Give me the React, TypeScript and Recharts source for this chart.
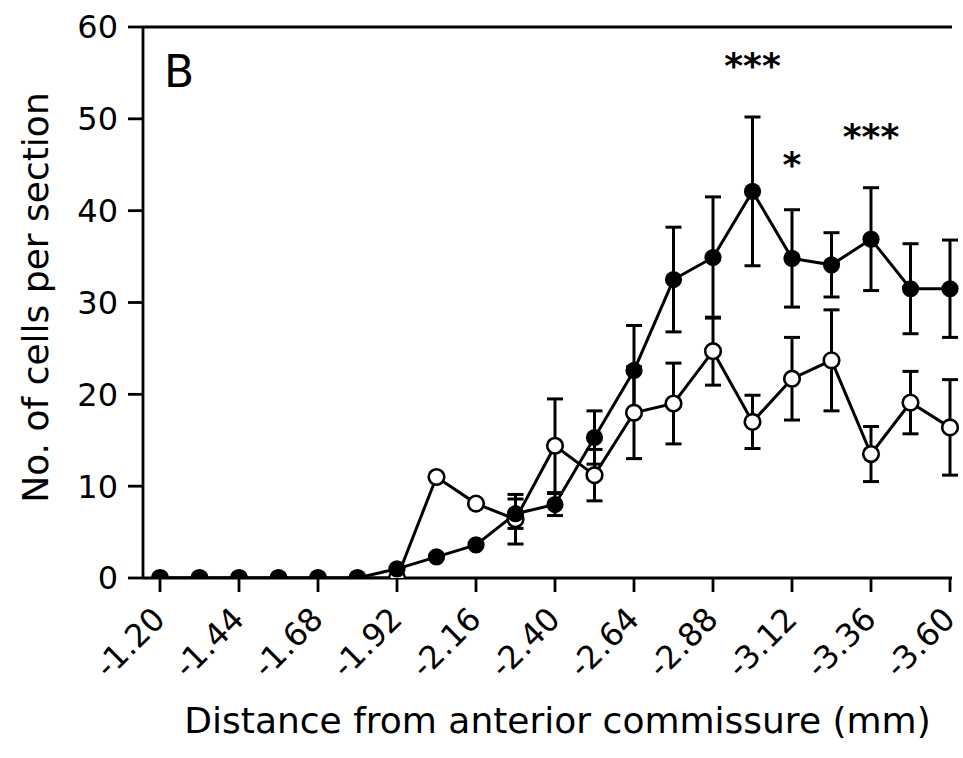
import { LineChart, Line, XAxis, YAxis, ErrorBar, ReferenceLine, ReferenceDot } from 'recharts';

// distance behind the anterior commissure, mm (shown with a minus sign)
const DEPTH_MM = [1.2, 1.32, 1.44, 1.56, 1.68, 1.8, 1.92, 2.04, 2.16, 2.28, 2.4, 2.52, 2.64, 2.76, 2.88, 3.0, 3.12, 3.24, 3.36, 3.48, 3.6];

const FILLED_MEAN = [0, 0, 0, 0, 0, 0, 1.0, 2.3, 3.6, 7.0, 8.0, 15.3, 22.6, 32.5, 34.9, 42.1, 34.8, 34.1, 36.9, 31.5, 31.5];
const FILLED_SEM = [null, null, null, null, null, null, null, null, null, 1.6, 1.2, 2.9, 4.9, 5.7, 6.6, 8.1, 5.3, 3.5, 5.6, 4.9, 5.3];

const OPEN_MEAN = [0, 0, 0, 0, 0, 0, 0, 11.0, 8.1, 6.4, 14.4, 11.2, 18.0, 19.0, 24.7, 17.0, 21.7, 23.7, 13.5, 19.1, 16.4];
const OPEN_SEM = [null, null, null, null, null, null, null, null, null, 2.7, 5.1, 2.8, 5.0, 4.4, 3.7, 2.9, 4.5, 5.5, 3.0, 3.4, 5.2];

const X_TICKS = [1.2, 1.44, 1.68, 1.92, 2.16, 2.4, 2.64, 2.88, 3.12, 3.36, 3.6];
const Y_TICKS = [0, 10, 20, 30, 40, 50, 60];

const STARS = [
  { depth: 3.0, y: 56.6, mark: '***' },
  { depth: 3.12, y: 45.8, mark: '*' },
  { depth: 3.36, y: 48.8, mark: '***' },
];

const FONT = '"DejaVu Sans", sans-serif';
const INK = '#000';

const data = DEPTH_MM.map((d, i) => ({
  depth: d,
  filled: FILLED_MEAN[i],
  filledSem: FILLED_SEM[i],
  open: OPEN_MEAN[i],
  openSem: OPEN_SEM[i],
}));

function DepthTick(props: any) {
  const { x, y, payload } = props;
  const ax = x + 7;
  const ay = y + 29;
  return (
    <text
      x={ax}
      y={ay}
      transform={`rotate(-45, ${ax}, ${ay})`}
      textAnchor="end"
      fontSize={32}
      fontFamily={FONT}
      fill={INK}
    >
      {'-' + Number(payload.value).toFixed(2)}
    </text>
  );
}

export default function App() {
  return (
    <div style={{ position: 'absolute', left: 0, top: 0, background: '#fff' }}>
      <LineChart width={963} height={758} data={data} margin={{ top: 27, right: 11, bottom: 0, left: 0 }}>
        <XAxis
          dataKey="depth"
          type="number"
          domain={[1.2, 3.6]}
          ticks={X_TICKS}
          padding={{ left: 17, right: 2 }}
          height={180}
          tickSize={14}
          tickMargin={0}
          axisLine={{ stroke: INK, strokeWidth: 2.8 }}
          tickLine={{ stroke: INK, strokeWidth: 2.8 }}
          tick={<DepthTick />}
          interval={0}
          label={{
            content: (p: any) => {
              const vb = p.viewBox;
              return (
                <text x={vb.x + vb.width / 2 + 10} y={vb.y + 155} textAnchor="middle" fontSize={36} fontFamily={FONT} fill={INK}>
                  Distance from anterior commissure (mm)
                </text>
              );
            },
          }}
        />
        <YAxis
          type="number"
          domain={[0, 60]}
          ticks={Y_TICKS}
          allowDataOverflow
          width={143}
          tickSize={15}
          tickMargin={10}
          axisLine={{ stroke: INK, strokeWidth: 2.8 }}
          tickLine={{ stroke: INK, strokeWidth: 2.8 }}
          tick={{ fontSize: 32, fill: INK, fontFamily: FONT }}
          label={{
            content: (p: any) => {
              const vb = p.viewBox;
              const cx = vb.x + 48;
              const cy = vb.y + vb.height / 2 - 5;
              return (
                <text x={cx} y={cy} transform={`rotate(-90, ${cx}, ${cy})`} textAnchor="middle" fontSize={36} fontFamily={FONT} fill={INK}>
                  No. of cells per section
                </text>
              );
            },
          }}
        />
        <ReferenceLine
          y={60}
          stroke={INK}
          strokeWidth={2.8}
          label={{
            content: (p: any) => {
              const vb = p.viewBox;
              return (
                <text x={vb.x + 21} y={vb.y + 60} fontSize={44} fontFamily={FONT} fill={INK}>
                  B
                </text>
              );
            },
          }}
        />
        <Line
          dataKey="open"
          type="linear"
          stroke={INK}
          strokeWidth={3}
          dot={{ r: 7.8, fill: '#fff', stroke: INK, strokeWidth: 2.6 }}
          isAnimationActive={false}
        >
          <ErrorBar dataKey="openSem" direction="y" width={8} stroke={INK} strokeWidth={3} />
        </Line>
        <Line
          dataKey="filled"
          type="linear"
          stroke={INK}
          strokeWidth={3}
          dot={{ r: 8.6, fill: INK, stroke: 'none' }}
          isAnimationActive={false}
        >
          <ErrorBar dataKey="filledSem" direction="y" width={8} stroke={INK} strokeWidth={3} />
        </Line>
        {STARS.map((s) => (
          <ReferenceDot
            key={s.depth}
            x={s.depth}
            y={s.y}
            r={0}
            fill="none"
            stroke="none"
            label={{
              content: (p: any) => {
                const vb = p.viewBox;
                return (
                  <text x={vb.x + vb.width / 2} y={vb.y + vb.height / 2} dy="0.54em" textAnchor="middle" fontSize={36} fontWeight="bold" fontFamily={FONT} fill={INK}>
                    {s.mark}
                  </text>
                );
              },
            }}
          />
        ))}
      </LineChart>
    </div>
  );
}
